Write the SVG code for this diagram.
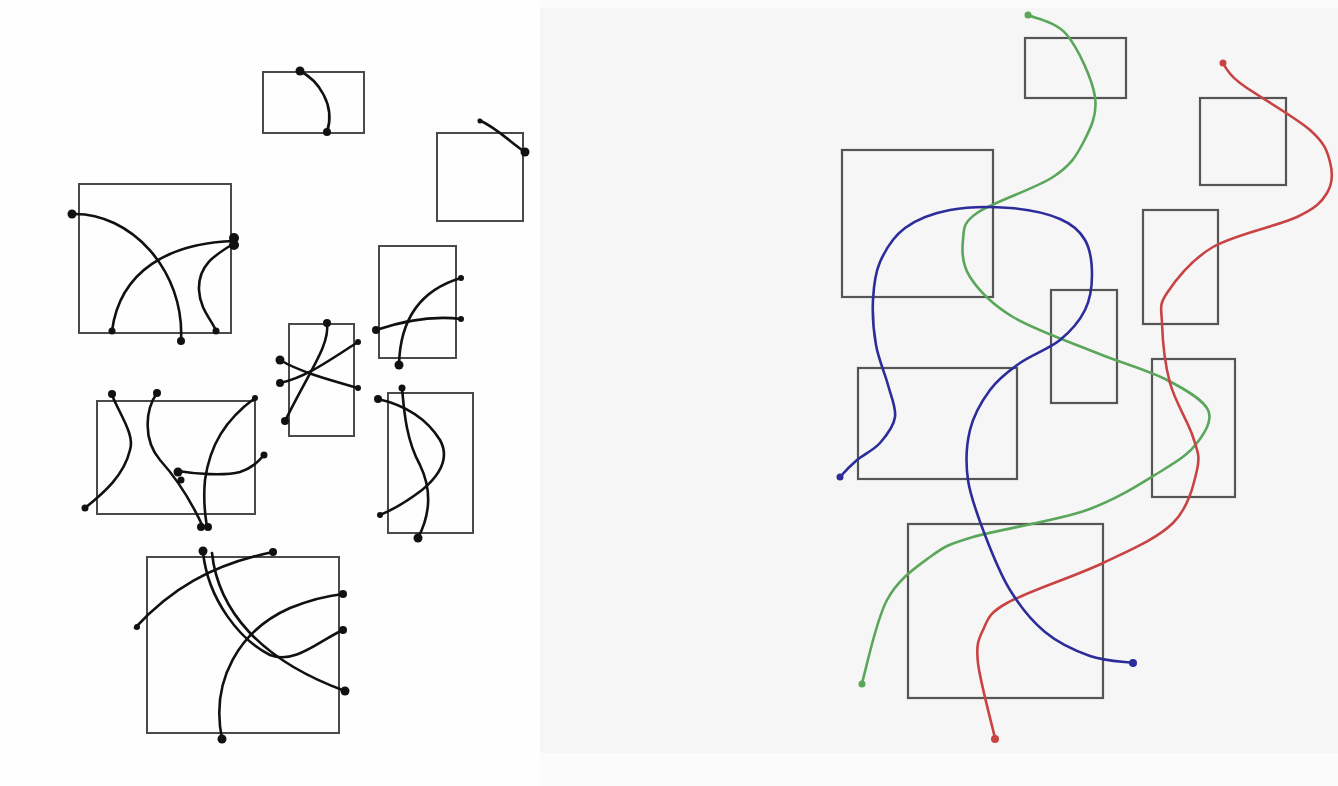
<svg xmlns="http://www.w3.org/2000/svg" width="1338" height="786" viewBox="0 0 1338 786">
<style>
.box{fill:none;stroke:#4a4a4a;stroke-width:2}
.rbox{fill:none;stroke:#555;stroke-width:2.2}
.k{fill:none;stroke:#111;stroke-width:2.6;stroke-linecap:round}
.kd{fill:#111}
.g{fill:none;stroke:#5aa65a;stroke-width:2.6;stroke-linecap:round}
.r{fill:none;stroke:#c84444;stroke-width:2.6;stroke-linecap:round}
.b{fill:none;stroke:#2c2c9a;stroke-width:2.6;stroke-linecap:round}
</style>
<rect x="0" y="0" width="1338" height="786" fill="#fbfbfb"/>
<rect x="540" y="8" width="798" height="745" fill="#f6f6f6"/>
<rect x="0" y="0" width="540" height="786" fill="#fefefe"/>
<g id="left-boxes">
<rect class="box" x="263" y="72" width="101" height="61"/>
<rect class="box" x="437" y="133" width="86" height="88"/>
<rect class="box" x="79" y="184" width="152" height="149"/>
<rect class="box" x="379" y="246" width="77" height="112"/>
<rect class="box" x="289" y="324" width="65" height="112"/>
<rect class="box" x="97" y="401" width="158" height="113"/>
<rect class="box" x="388" y="393" width="85" height="140"/>
<rect class="box" x="147" y="557" width="192" height="176"/>
</g>
<g id="left-curves">
<path class="k" d="M300,71 C318,80 336,105 327,132"/>
<path class="k" d="M479,120 C497,128 510,142 525,152"/>
<path class="k" d="M72,214 C130,212 185,270 181,341"/>
<path class="k" d="M112,331 C120,270 170,243 234,241"/>
<path class="k" d="M233,244 C215,255 198,265 199,290 C200,310 212,320 216,331"/>
<path class="k" d="M376,330 C400,322 430,315 461,319"/>
<path class="k" d="M399,365 C400,320 420,290 461,278"/>
<path class="k" d="M327,323 C330,345 310,370 285,421"/>
<path class="k" d="M280,360 C300,372 330,380 358,388"/>
<path class="k" d="M280,383 C305,378 330,360 358,342"/>
<path class="k" d="M378,399 C400,404 425,416 440,440 C450,458 440,475 422,490 C405,503 392,510 380,515"/>
<path class="k" d="M402,388 C404,410 406,440 420,465 C432,490 430,515 418,538"/>
<path class="k" d="M112,395 C120,415 135,435 130,450 C124,475 105,492 85,508"/>
<path class="k" d="M157,393 C145,410 143,440 160,460 C178,480 193,505 203,527"/>
<path class="k" d="M178,471 C195,474 225,476 240,472 C252,468 258,462 264,455"/>
<path class="k" d="M255,398 C225,420 210,445 205,480 C203,500 205,515 207,527"/>
<path class="k" d="M135,628 C170,590 210,565 273,552"/>
<path class="k" d="M203,552 C208,600 240,640 270,655 C295,665 320,640 343,630"/>
<path class="k" d="M212,553 C218,610 260,660 345,691"/>
<path class="k" d="M222,739 C210,680 240,630 290,608 C310,600 325,596 343,594"/>
</g>
<g id="left-dots" class="kd">
<circle cx="300" cy="71" r="4.5"/><circle cx="327" cy="132" r="4"/>
<circle cx="480" cy="121" r="2.5"/><circle cx="525" cy="152" r="4.5"/>
<circle cx="72" cy="214" r="4.5"/><circle cx="181" cy="341" r="4"/>
<circle cx="112" cy="331" r="3.5"/><circle cx="234" cy="238" r="5"/><circle cx="234" cy="245" r="5"/>
<circle cx="216" cy="331" r="3.5"/>
<circle cx="376" cy="330" r="4"/><circle cx="461" cy="319" r="3"/>
<circle cx="399" cy="365" r="4.5"/><circle cx="461" cy="278" r="3"/>
<circle cx="327" cy="323" r="4"/><circle cx="285" cy="421" r="4"/>
<circle cx="280" cy="360" r="4.5"/><circle cx="358" cy="388" r="3"/>
<circle cx="280" cy="383" r="4"/><circle cx="358" cy="342" r="3"/>
<circle cx="378" cy="399" r="4"/><circle cx="380" cy="515" r="3"/>
<circle cx="402" cy="388" r="3.5"/><circle cx="418" cy="538" r="4.5"/>
<circle cx="112" cy="394" r="4"/><circle cx="85" cy="508" r="3.5"/>
<circle cx="157" cy="393" r="4"/><circle cx="201" cy="527" r="4"/>
<circle cx="178" cy="472" r="4.5"/><circle cx="181" cy="480" r="3.5"/><circle cx="264" cy="455" r="3.5"/>
<circle cx="255" cy="398" r="3"/><circle cx="208" cy="527" r="4"/>
<circle cx="137" cy="627" r="3"/><circle cx="273" cy="552" r="4"/>
<circle cx="203" cy="551" r="4.5"/><circle cx="343" cy="630" r="4"/>
<circle cx="345" cy="691" r="4.5"/>
<circle cx="222" cy="739" r="4.5"/><circle cx="343" cy="594" r="4"/>
</g>
<g id="right-boxes">
<rect class="rbox" x="1025" y="38" width="101" height="60"/>
<rect class="rbox" x="1200" y="98" width="86" height="87"/>
<rect class="rbox" x="842" y="150" width="151" height="147"/>
<rect class="rbox" x="1143" y="210" width="75" height="114"/>
<rect class="rbox" x="1051" y="290" width="66" height="113"/>
<rect class="rbox" x="858" y="368" width="159" height="111"/>
<rect class="rbox" x="1152" y="359" width="83" height="138"/>
<rect class="rbox" x="908" y="524" width="195" height="174"/>
</g>
<g id="right-curves">
<path class="g" d="M1028,15 C1034.5,18.3 1055.8,21.3 1067,35 C1078.2,48.7 1092.3,79 1095,97 C1097.7,115 1090,129.7 1083,143 C1076,156.3 1070.7,165.3 1053,177 C1035.3,188.7 992,202.5 977,213 C962,223.5 964.2,229.3 963,240 C961.8,250.7 961.7,264.2 970,277 C978.3,289.8 991.8,304.3 1013,317 C1034.2,329.7 1071.3,342.5 1097,353 C1122.7,363.5 1148.5,370.5 1167,380 C1185.5,389.5 1203,399.5 1208,410 C1213,420.5 1204.5,433 1197,443 C1189.5,453 1181.3,458.8 1163,470 C1144.7,481.2 1118.7,498.8 1087,510 C1055.3,521.2 999.2,529.2 973,537 C946.8,544.8 944.3,546.5 930,557 C915.7,567.5 898.3,579 887,600 C875.7,621 866.2,669.2 862,683"/>
<path class="r" d="M1223,63 C1227,71 1232,77 1240,83 C1254.5,94.2 1295,116.8 1310,130 C1325,143.2 1327.2,151.5 1330,162 C1332.8,172.5 1332.5,183.8 1327,193 C1321.5,202.2 1316,208 1297,217 C1278,226 1234.7,234.3 1213,247 C1191.3,259.7 1175.5,280.3 1167,293 C1158.5,305.7 1161.5,308 1162,323 C1162.5,338 1164.8,364 1170,383 C1175.2,402 1188.5,422.5 1193,437 C1197.5,451.5 1200.3,455.7 1197,470 C1193.7,484.3 1188.7,507.5 1173,523 C1157.3,538.5 1130.7,549.7 1103,563 C1075.3,576.3 1027,591.8 1007,603 C987,614.2 987.8,620 983,630 C978.2,640 976,645 978,663 C980,681 992.2,725.5 995,738"/>
<path class="b" d="M840,477 C842.8,473.8 850.3,465.7 857,460 C863.7,454.3 873.7,450.2 880,443 C886.3,435.8 893.7,426.7 895,417 C896.3,407.3 891.2,397 888,385 C884.8,373 878.5,359.2 876,345 C873.5,330.8 872.3,313.8 873,300 C873.7,286.2 874.7,274 880,262 C885.3,250 893.3,236.7 905,228 C916.7,219.3 932.5,213.3 950,210 C967.5,206.7 991.7,206.5 1010,208 C1028.3,209.5 1047.5,213.7 1060,219 C1072.5,224.3 1079.7,230.7 1085,240 C1090.3,249.3 1092,263.3 1092,275 C1092,286.7 1090.3,299.2 1085,310 C1079.7,320.8 1070.8,331.2 1060,340 C1049.2,348.8 1031.7,354.7 1020,363 C1008.3,371.3 998.3,378.8 990,390 C981.7,401.2 973.7,415 970,430 C966.3,445 965.5,462.5 968,480 C970.5,497.5 978,516.7 985,535 C992,553.3 1000,573.8 1010,590 C1020,606.2 1031.7,621 1045,632 C1058.3,643 1075.3,650.8 1090,656 C1104.7,661.2 1125.8,661.8 1133,663"/>
</g>
<g id="right-dots">
<circle cx="1028" cy="15" r="3.5" fill="#5aa65a"/>
<circle cx="862" cy="684" r="3.5" fill="#5aa65a"/>
<circle cx="1223" cy="63" r="3.5" fill="#c84444"/>
<circle cx="995" cy="739" r="4" fill="#c84444"/>
<circle cx="840" cy="477" r="3.5" fill="#2c2c9a"/>
<circle cx="1133" cy="663" r="4" fill="#2c2c9a"/>
</g>
</svg>
